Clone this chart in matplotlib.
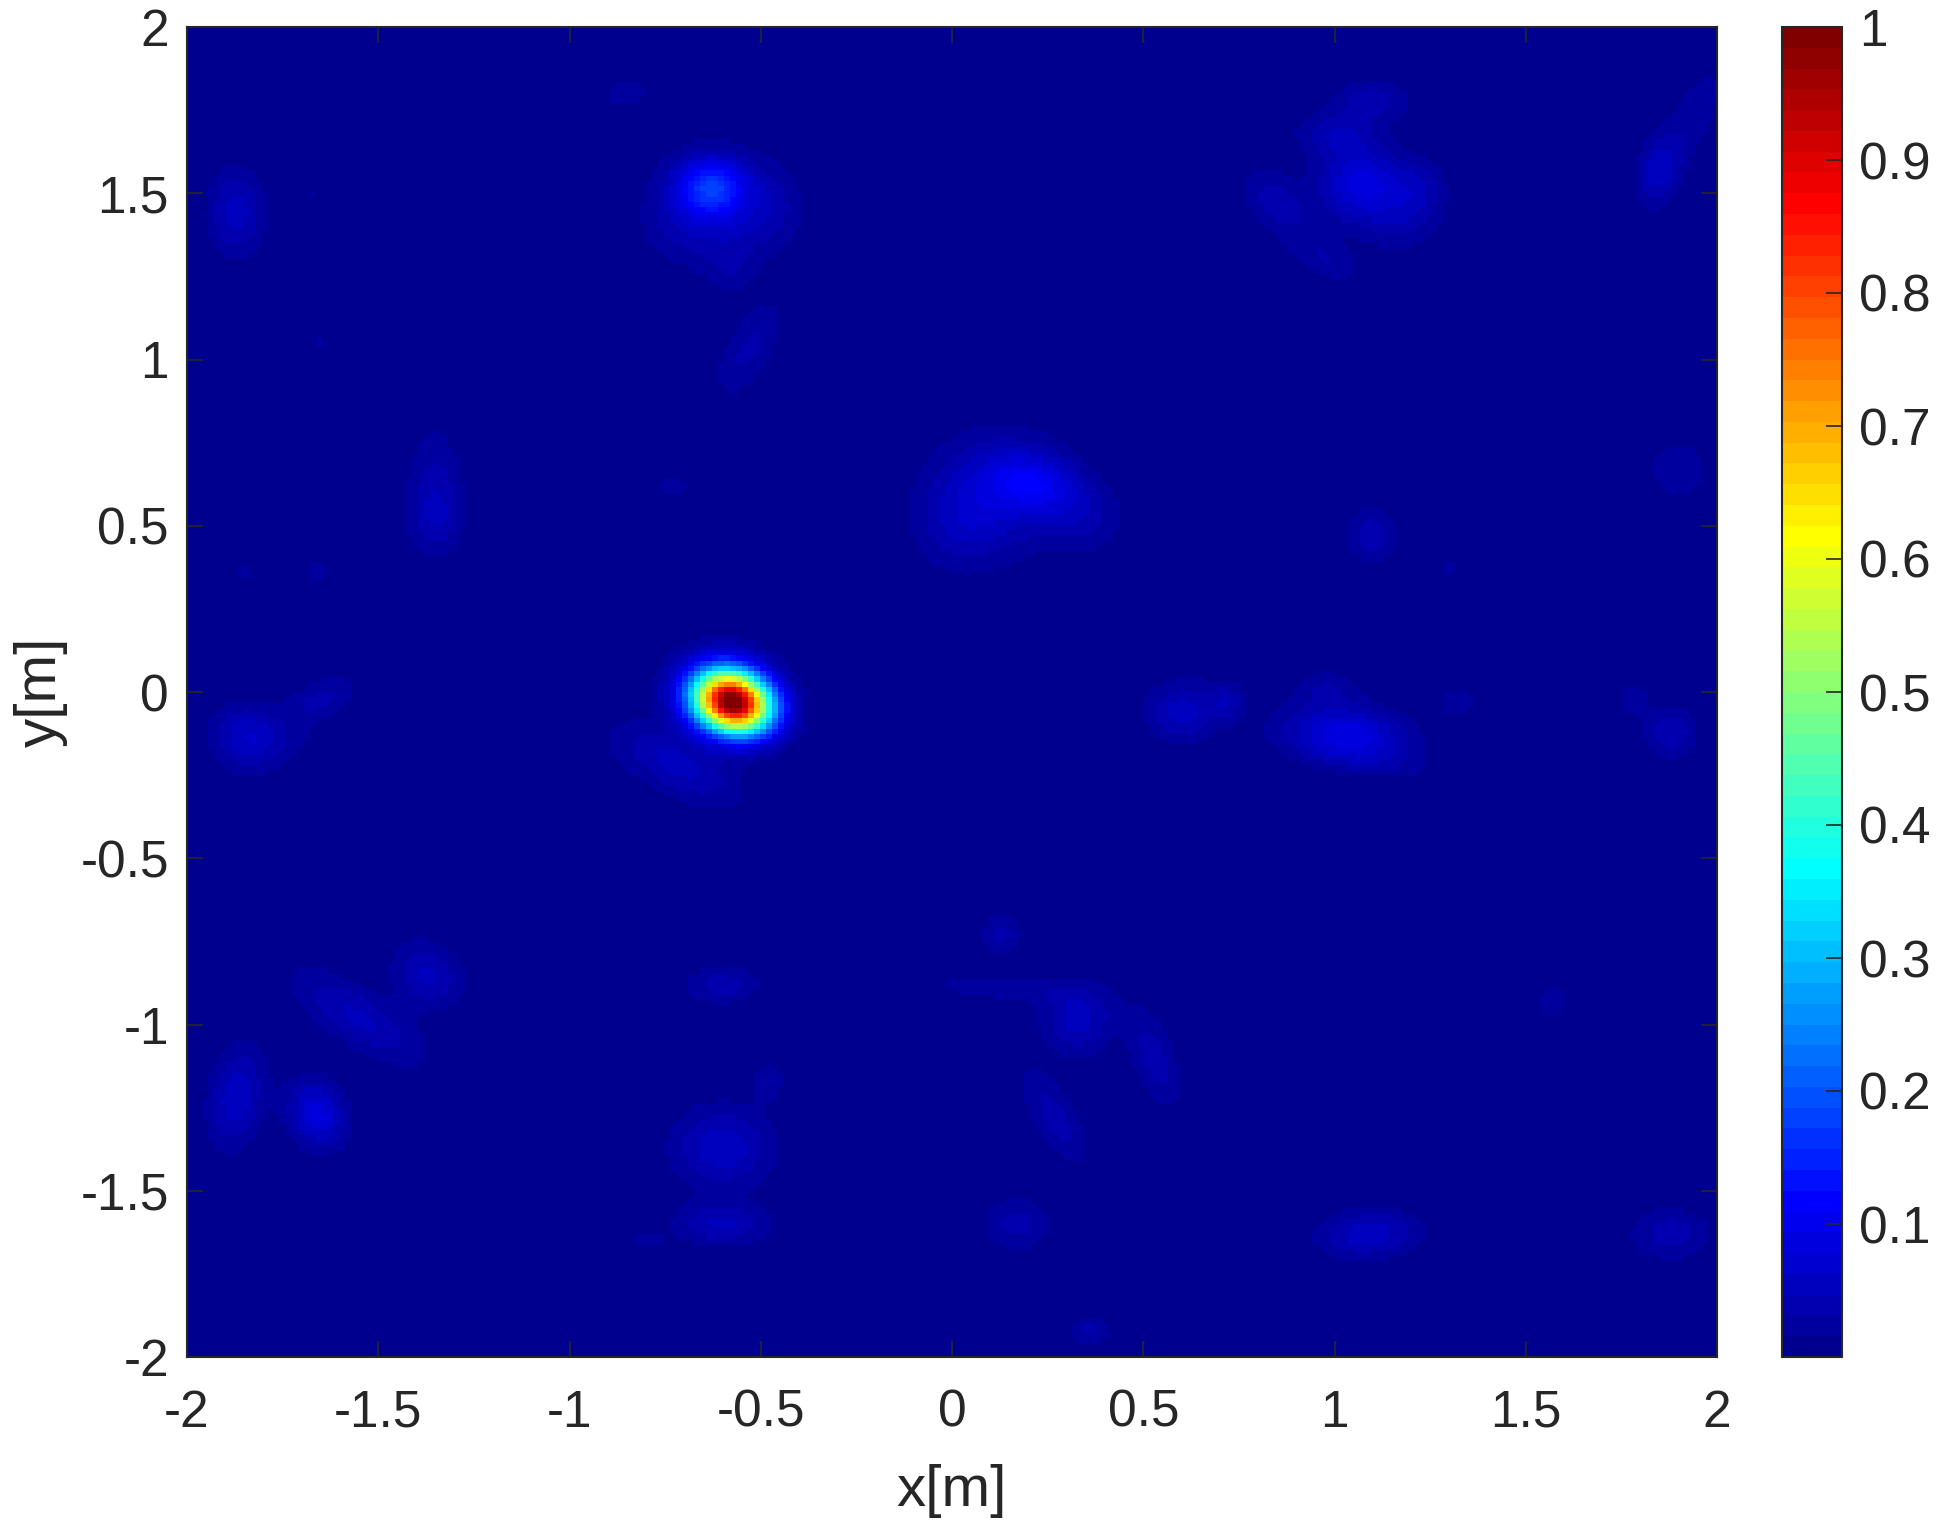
#!/usr/bin/env python3
"""Normalised spatial power map on the x-y plane, with a 64-step jet colour bar."""
import matplotlib
matplotlib.use("Agg")
import matplotlib.pyplot as plt
import numpy as np
from matplotlib.colors import ListedColormap

plt.rcParams["font.family"] = ["Liberation Sans", "DejaVu Sans"]
plt.rcParams["axes.unicode_minus"] = False

INK = "#262626"
W, H = 1939, 1523

# peaks: centre [m], height, spreads [m], tilt [deg]
PEAK_X = [-0.573, -0.63, -0.60, 0.22, 0.12, 1.07, 1.10, 1.00, 0.85, 1.22, 0.98,
          1.85, 1.95, -1.87, -1.35, -0.53, -0.72, -1.85, -1.65, 1.03, 0.98, 0.60,
          0.72, 1.32, 1.88, 1.78, 1.10, 1.30, 1.90, -1.37, -1.55, -1.87, -1.66,
          -0.60, -0.48, -0.60, -0.60, -0.80, 0.13, 0.33, 0.12, 0.53, 0.27, 0.17,
          1.09, 1.88, 1.57, 0.36, -0.73, -1.66, -1.85, -1.65, -1.67, -0.85, 1.55,
          0.35, -0.60, -0.72, -0.47, -0.58, 0.02, 0.35, 1.18, -1.78, 1.08, 0.62,
          -1.35, -1.87]
PEAK_Y = [-0.03, 1.52, 1.47, 0.63, 0.60, 1.53, 1.78, 1.68, 1.47, 1.52, 1.30,
          1.57, 1.75, 1.45, 0.60, 1.03, -0.22, -0.12, -0.02, -0.12, 0.01, -0.07,
          -0.03, -0.03, -0.12, -0.02, 0.47, 0.37, 0.67, -0.85, -0.98, -1.22, -1.27,
          -0.88, -1.17, -1.37, -1.60, -1.65, -0.73, -0.98, -0.89, -1.10, -1.28, -1.60,
          -1.63, -1.63, -0.93, -1.92, 0.62, 0.36, 0.36, 1.05, 1.50, 1.80, 1.85,
          1.02, 0.02, 1.42, 1.45, 1.28, 0.50, 0.52, 1.42, -0.17, -0.20, -0.03,
          0.52, 1.42]
PEAK_AMP = [1.00, 0.13, 0.055, 0.075, 0.060, 0.085, 0.040, 0.040, 0.040, 0.035, 0.030,
            0.060, 0.030, 0.040, 0.040, 0.035, 0.052, 0.055, 0.035, 0.085, 0.030, 0.040,
            0.035, 0.030, 0.045, 0.025, 0.040, 0.022, 0.030, 0.050, 0.050, 0.060, 0.085,
            0.040, 0.030, 0.060, 0.050, 0.020, 0.035, 0.055, 0.030, 0.040, 0.040, 0.040,
            0.060, 0.040, 0.028, 0.035, 0.022, 0.025, 0.020, 0.018, 0.018, 0.025, 0.012,
            0.016, 0.050, 0.025, 0.025, 0.025, 0.030, 0.030, 0.030, 0.025, 0.030, 0.020,
            0.020, 0.015]
PEAK_SX = [0.072, 0.058, 0.095, 0.085, 0.120, 0.075, 0.070, 0.070, 0.050, 0.050, 0.070,
           0.040, 0.040, 0.050, 0.050, 0.045, 0.130, 0.060, 0.075, 0.110, 0.060, 0.055,
           0.030, 0.035, 0.050, 0.030, 0.050, 0.018, 0.055, 0.060, 0.140, 0.050, 0.050,
           0.070, 0.030, 0.090, 0.085, 0.040, 0.040, 0.065, 0.120, 0.040, 0.040, 0.060,
           0.090, 0.075, 0.030, 0.040, 0.040, 0.025, 0.025, 0.025, 0.020, 0.050, 0.020,
           0.020, 0.085, 0.070, 0.060, 0.050, 0.080, 0.070, 0.070, 0.090, 0.120, 0.090,
           0.050, 0.060]
PEAK_SY = [0.060, 0.058, 0.100, 0.060, 0.120, 0.080, 0.045, 0.045, 0.085, 0.060, 0.040,
           0.075, 0.100, 0.085, 0.130, 0.110, 0.060, 0.060, 0.040, 0.055, 0.040, 0.055,
           0.040, 0.030, 0.055, 0.040, 0.060, 0.025, 0.065, 0.075, 0.055, 0.105, 0.070,
           0.040, 0.045, 0.085, 0.045, 0.020, 0.045, 0.075, 0.025, 0.110, 0.110, 0.055,
           0.050, 0.055, 0.040, 0.035, 0.030, 0.030, 0.030, 0.025, 0.020, 0.035, 0.020,
           0.020, 0.085, 0.100, 0.090, 0.060, 0.100, 0.070, 0.070, 0.050, 0.040, 0.070,
           0.060, 0.100]
PEAK_TILT = [-30, 0, 0, -20, 0, 0, 0, 0, 35, 0, -30,
             -10, -20, 0, 0, -25, -32, 0, 30, -5, 0, 0,
             0, 0, 0, 0, 0, 0, 0, 30, -38, -8, 15,
             0, 0, 0, 0, 0, 0, 0, -5, 15, 25, 0,
             5, 0, 0, 0, 0, 0, 0, 0, 0, 0, 0,
             0, 0, 0, 0, 0, 0, 0, 0, 30, -10, 0,
             0, 0]

X_TICKS = [-2, -1.5, -1, -0.5, 0, 0.5, 1, 1.5, 2]
X_LABELS = ["-2", "-1.5", "-1", "-0.5", "0", "0.5", "1", "1.5", "2"]
Y_TICKS = [-2, -1.5, -1, -0.5, 0, 0.5, 1, 1.5, 2]
Y_LABELS = ["-2", "-1.5", "-1", "-0.5", "0", "0.5", "1", "1.5", "2"]
BAR_TICKS = [0.1, 0.2, 0.3, 0.4, 0.5, 0.6, 0.7, 0.8, 0.9, 1]
BAR_LABELS = ["0.1", "0.2", "0.3", "0.4", "0.5", "0.6", "0.7", "0.8", "0.9", "1"]


def matlab_jet(n=64):
    # same ramp as MATLAB's jet: starts at 0.5625 blue, ends at 0.5 red
    t = (np.arange(1, n + 1) / n)
    r = np.clip(np.minimum(4 * t - 1.5, -4 * t + 4.5), 0, 1)
    g = np.clip(np.minimum(4 * t - 0.5, -4 * t + 3.5), 0, 1)
    b = np.clip(np.minimum(4 * t + 0.5, -4 * t + 2.5), 0, 1)
    return ListedColormap(np.column_stack([r, g, b]))


def field(xx, yy):
    z = np.zeros_like(xx)
    for x0, y0, amp, sx, sy, tilt in zip(PEAK_X, PEAK_Y, PEAK_AMP, PEAK_SX, PEAK_SY, PEAK_TILT):
        a = np.radians(tilt)
        u = (xx - x0) * np.cos(a) + (yy - y0) * np.sin(a)
        v = -(xx - x0) * np.sin(a) + (yy - y0) * np.cos(a)
        z += amp * np.exp(-0.5 * ((u / sx) ** 2 + (v / sy) ** 2))
    return z


def main(out="out.png"):
    fig = plt.figure(figsize=(W / 100, H / 100), dpi=100, facecolor="white")
    ax = fig.add_axes([187 / W, 1 - 1357 / H, (1717 - 187) / W, (1357 - 27) / H])
    cax = fig.add_axes([1782 / W, 1 - 1357 / H, (1842 - 1782) / W, (1357 - 27) / H])

    xs = np.linspace(-2, 2, 256)
    ys = np.linspace(-2, 2, 256)
    xx, yy = np.meshgrid(xs, ys)
    mesh = ax.pcolormesh(xs, ys, field(xx, yy), cmap=matlab_jet(), vmin=0, vmax=1,
                         shading="nearest", rasterized=True)
    ax.set_xlim(-2, 2)
    ax.set_ylim(-2, 2)
    ax.set_xticks(X_TICKS, X_LABELS)
    ax.set_yticks(Y_TICKS, Y_LABELS)
    ax.tick_params(direction="in", top=True, right=True, length=11.5, width=1.2,
                   color=INK, labelcolor=INK, labelsize=37, pad=13)
    ax.tick_params(axis="x", pad=23)
    ax.set_xlabel("x[m]", fontsize=42, color=INK, labelpad=19)
    ax.set_ylabel("y[m]", fontsize=42, color=INK, labelpad=9)

    cb = fig.colorbar(mesh, cax=cax)
    cb.set_ticks(BAR_TICKS, labels=BAR_LABELS)
    cax.tick_params(direction="in", length=11.5, width=1.2, color=INK, labelcolor=INK,
                    labelsize=37, pad=12)
    cb.outline.set_edgecolor(INK)
    cb.outline.set_linewidth(1.5)
    for s in ax.spines.values():
        s.set_color(INK)
        s.set_linewidth(1.5)

    fig.savefig(out, dpi=100, facecolor="white")
    plt.close(fig)


if __name__ == "__main__":
    main()
